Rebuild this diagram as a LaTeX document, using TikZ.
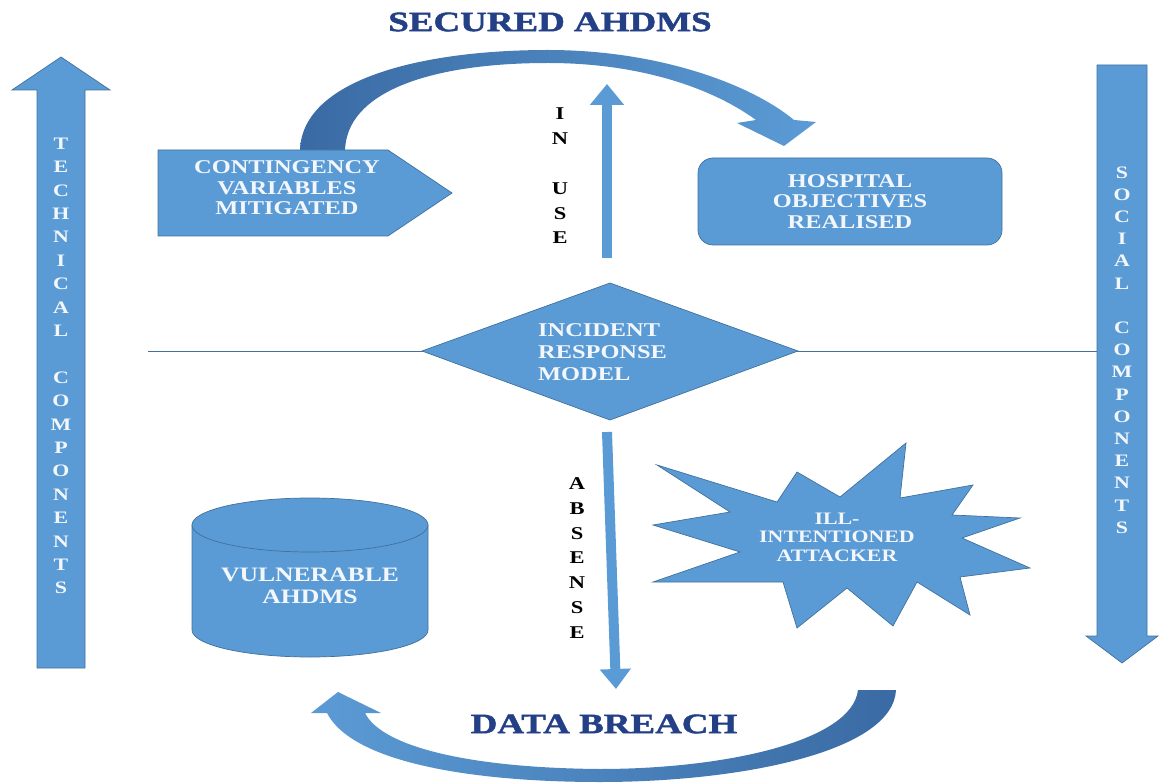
\documentclass[tikz,border=0pt]{standalone}
\usepackage{fontspec}
\setmainfont{Liberation Serif}
\newfontfamily\widefont{Liberation Serif}[FakeStretch=1.25]
\newfontfamily\titlefont{Liberation Serif}[FakeStretch=1.32,BoldFeatures={FakeBold=1.6}]
\usetikzlibrary{arrows.meta}
\definecolor{fillblue}{HTML}{5B9BD5}
\definecolor{edgeblue}{HTML}{41719C}
\definecolor{deepblue}{HTML}{3A6AA3}
\definecolor{navy}{HTML}{233F85}
\definecolor{pale}{HTML}{F3F7FC}
\tikzset{
  shapefill/.style={fill=fillblue, draw=edgeblue, line width=0.7pt},
  boxtext/.style={text=pale, font=\widefont\bfseries\fontsize{19.5}{20.5}\selectfont, align=center, inner sep=0pt},
  sidetext/.style={text=pale, font=\widefont\bfseries\fontsize{17.5}{23.4}\selectfont, align=center, inner sep=0pt},
  midtext/.style={text=black, font=\widefont\bfseries\fontsize{18}{24.8}\selectfont, align=center, inner sep=0pt},
  titletext/.style={text=navy, font=\titlefont\bfseries\fontsize{28}{30}\selectfont, inner sep=0pt},
  thinarrow/.style={line width=10pt, draw=fillblue},
}
\begin{document}
\begin{tikzpicture}[x=1pt,y=-1pt]
\useasboundingbox (0,0) rectangle (1159,783);

% titles
\node[titletext] (secured) at (550,22) {SECURED AHDMS};
\node[titletext] (breach) at (604,724) {DATA BREACH};

% side arrows
\path[shapefill] (37,668) -- (37,90) -- (12,90) -- (61,57) -- (110,90) -- (85,90) -- (85,668) -- cycle;
\node[sidetext] (tech) at (61,366) {T\\E\\C\\H\\N\\I\\C\\A\\L\\[23.4pt]C\\O\\M\\P\\O\\N\\E\\N\\T\\S};
\draw[edgeblue, line width=0.8pt] (148,351) -- (1097,351);
\path[shapefill] (1097,65) -- (1147,65) -- (1147,636) -- (1158,636) -- (1122,663) -- (1086,636) -- (1097,636) -- cycle;
\node[sidetext,font=\widefont\bfseries\fontsize{17.5}{22.2}\selectfont] (social) at (1122,350) {S\\O\\C\\I\\A\\L\\[22.2pt]C\\O\\M\\P\\O\\N\\E\\N\\T\\S};

% top curved arrow
\path[shading=axis, left color=deepblue, right color=fillblue]
  (300,152) .. controls (300,80) and (420,50) .. (548,50)
  .. controls (660,50) and (752,85) .. (794,120)
  -- (816,122) -- (784,146) -- (737,123) -- (756,120)
  .. controls (712,88) and (640,63) .. (548,63)
  .. controls (430,63) and (345,92) .. (345,152) -- cycle;

% bottom curved arrow
\path[shading=axis, left color=fillblue, right color=deepblue]
  (858,690) -- (896,690)
  .. controls (893,752) and (740,782) .. (600,782)
  .. controls (470,782) and (352,762) .. (327,713)
  -- (311,713) -- (338,692) -- (381,713) -- (365,713)
  .. controls (382,747) and (470,768) .. (600,769)
  .. controls (722,769) and (852,742) .. (858,690) -- cycle;

% contingency box
\path[shapefill] (158,150) -- (388,150) -- (452,193) -- (388,236) -- (158,236) -- cycle;
\node[boxtext] (conting) at (287,188) {CONTINGENCY\\VARIABLES\\MITIGATED};

% hospital box
\node[shapefill, rounded corners=15pt, minimum width=304pt, minimum height=87pt, boxtext] (hosp) at (850,201.5) {HOSPITAL\\OBJECTIVES\\REALISED};

% in use arrow
\coordinate (upbot) at (607,258);
\coordinate (uptop) at (607,84);
\draw[thinarrow, -{Triangle[width=33pt,length=21pt]}] (upbot) -- (uptop);
\node[midtext] (inuse) at (560,176) {I\\N\\[24.8pt]U\\S\\E};

% diamond
\path[shapefill] (422,351) -- (610,283) -- (798,351) -- (610,420) -- cycle;
\node[boxtext, align=left, anchor=west, font=\widefont\bfseries\fontsize{19.5}{22}\selectfont] (irm) at (538,352) {INCIDENT\\RESPONSE\\MODEL};

% absense arrow
\coordinate (dntop) at (607,432);
\coordinate (dnbot) at (616,689);
\draw[thinarrow, -{Triangle[width=30pt,length=20pt]}] (dntop) -- (dnbot);
\node[midtext] (absense) at (577,558) {A\\B\\S\\E\\N\\S\\E};

% cylinder
\path[shapefill] (192,525) -- (192,630) arc[start angle=180, end angle=360, x radius=118pt, y radius=27pt] -- (428,525) -- cycle;
\draw[shapefill] (310,525) ellipse [x radius=118pt, y radius=27pt];
\node[boxtext, font=\widefont\bfseries\fontsize{20.5}{21.5}\selectfont] (vuln) at (310,586) {VULNERABLE\\AHDMS};

% star
\path[shapefill] (657,465) -- (777,502) -- (797,472) -- (840,497) -- (906,443) -- (900,498)
  -- (973,485) -- (952,515) -- (1020,518) -- (962,538) -- (1030,568) -- (960,577)
  -- (970,615) -- (917,582) -- (893,626) -- (847,588) -- (797,628) -- (783,582)
  -- (653,582) -- (740,552) -- (653,525) -- (730,512) -- cycle;
\node[boxtext, font=\widefont\bfseries\fontsize{17.5}{18.5}\selectfont] (attacker) at (837,537) {ILL-\\INTENTIONED\\ATTACKER};
\end{tikzpicture}
\end{document}
